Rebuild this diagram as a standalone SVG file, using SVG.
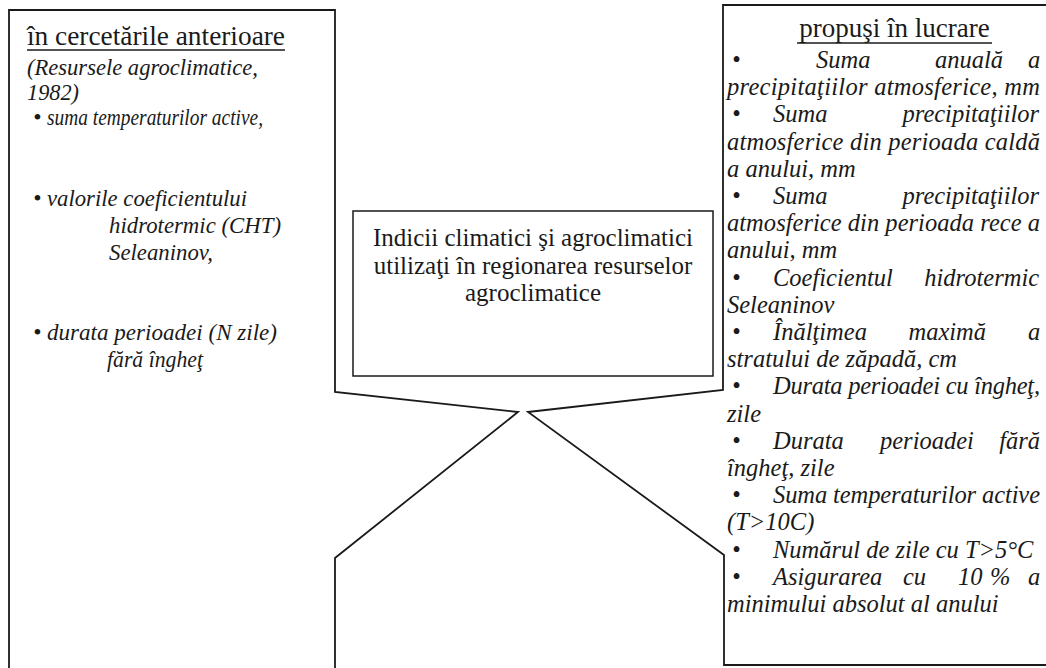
<svg xmlns="http://www.w3.org/2000/svg" width="1046" height="668" viewBox="0 0 1046 668">
<style>
.outline{fill:none;stroke:#1a1a1a;stroke-width:1.8;stroke-linejoin:miter}
.box{fill:none;stroke:#1a1a1a;stroke-width:1.5}
.hd{font-family:"Liberation Serif","Times New Roman",serif;font-size:27px;fill:#1a1a1a}
.it{font-family:"Liberation Serif","Times New Roman",serif;font-style:italic;fill:#1a1a1a}
.l{font-size:24px}
.r{font-size:24.5px}
.c{font-family:"Liberation Serif","Times New Roman",serif;font-size:25px;fill:#1a1a1a;text-anchor:middle}
.ul{stroke:#1a1a1a;stroke-width:1.4}
</style>
<rect width="1046" height="668" fill="#fff"/>
<g id="connectors"></g>
<g id="node-left">
<polyline class="outline" points="9,668 9,10 335,10 335,392 518,412 335,558 335,668"/>
<text class="hd" x="27" y="45" textLength="258" lengthAdjust="spacingAndGlyphs">în cercetările anterioare</text>
<line class="ul" x1="27" y1="50" x2="285" y2="50"/>
<g class="it l">
<text x="27" y="75" textLength="231" lengthAdjust="spacingAndGlyphs">(Resursele agroclimatice,</text>
<text x="27" y="100" textLength="52" lengthAdjust="spacingAndGlyphs">1982)</text>
<text y="125"><tspan x="33">•</tspan><tspan x="47" textLength="216" lengthAdjust="spacingAndGlyphs">suma temperaturilor active,</tspan></text>
<text y="206"><tspan x="33">•</tspan><tspan x="47" textLength="200" lengthAdjust="spacingAndGlyphs">valorile coeficientului</tspan></text>
<text x="109" y="233" textLength="172" lengthAdjust="spacingAndGlyphs">hidrotermic (CHT)</text>
<text x="109" y="260" textLength="104" lengthAdjust="spacingAndGlyphs">Seleaninov,</text>
<text y="340"><tspan x="33">•</tspan><tspan x="47" textLength="230" lengthAdjust="spacingAndGlyphs">durata perioadei (N zile)</tspan></text>
<text x="107" y="367" textLength="96" lengthAdjust="spacingAndGlyphs">fără îngheţ</text>
</g>
</g>
<g id="node-center">
<rect class="box" x="353" y="211" width="360" height="165"/>
<text class="c" x="533" y="246">Indicii climatici şi agroclimatici</text>
<text class="c" x="533" y="274">utilizaţi în regionarea resurselor</text>
<text class="c" x="533" y="301">agroclimatice</text>
</g>
<g id="node-right">
<polyline class="outline" points="1050,5 723,5 723,390 528,412 724,555 724,665 1050,665"/>
<text class="hd" x="894.5" y="37" text-anchor="middle">propuşi în lucrare</text>
<line class="ul" x1="797" y1="43" x2="992" y2="43"/>
<g class="it r">
<text y="68"><tspan x="732">•</tspan><tspan x="816">Suma</tspan><tspan x="935">anuală</tspan><tspan x="1028">a</tspan></text>
<text x="727" y="95.2" textLength="313" lengthAdjust="spacing">precipitaţiilor atmosferice, mm</text>
<text y="122.4"><tspan x="732">•</tspan><tspan x="773">Suma</tspan><tspan x="902.5">precipitaţiilor</tspan></text>
<text x="727" y="149.6" textLength="313" lengthAdjust="spacing">atmosferice din perioada caldă</text>
<text x="727" y="176.8">a anului, mm</text>
<text y="204"><tspan x="732">•</tspan><tspan x="773">Suma</tspan><tspan x="902.5">precipitaţiilor</tspan></text>
<text x="727" y="231.2" textLength="313" lengthAdjust="spacing">atmosferice din perioada rece a</text>
<text x="727" y="258.4">anului, mm</text>
<text y="285.6"><tspan x="732">•</tspan><tspan x="773">Coeficientul</tspan><tspan x="924.3">hidrotermic</tspan></text>
<text x="727" y="312.8">Seleaninov</text>
<text y="340"><tspan x="732">•</tspan><tspan x="773">Înălţimea</tspan><tspan x="908.5">maximă</tspan><tspan x="1028">a</tspan></text>
<text x="727" y="367.2">stratului de zăpadă, cm</text>
<text y="394.4"><tspan x="732">•</tspan><tspan x="773" textLength="267" lengthAdjust="spacing">Durata perioadei cu îngheţ,</tspan></text>
<text x="727" y="421.6">zile</text>
<text y="448.8"><tspan x="732">•</tspan><tspan x="773">Durata</tspan><tspan x="880">perioadei</tspan><tspan x="999.2">fără</tspan></text>
<text x="727" y="476">îngheţ, zile</text>
<text y="503.2"><tspan x="732">•</tspan><tspan x="773" textLength="267" lengthAdjust="spacing">Suma temperaturilor active</tspan></text>
<text x="727" y="530.4">(T&gt;10C)</text>
<text y="557.6"><tspan x="732">•</tspan><tspan x="773">Numărul de zile cu T&gt;5°C</tspan></text>
<text y="584.8"><tspan x="732">•</tspan><tspan x="773">Asigurarea</tspan><tspan x="903">cu</tspan><tspan x="958">10</tspan><tspan x="990">%</tspan><tspan x="1028">a</tspan></text>
<text x="727" y="612">minimului absolut al anului</text>
</g>
</g>
</svg>
